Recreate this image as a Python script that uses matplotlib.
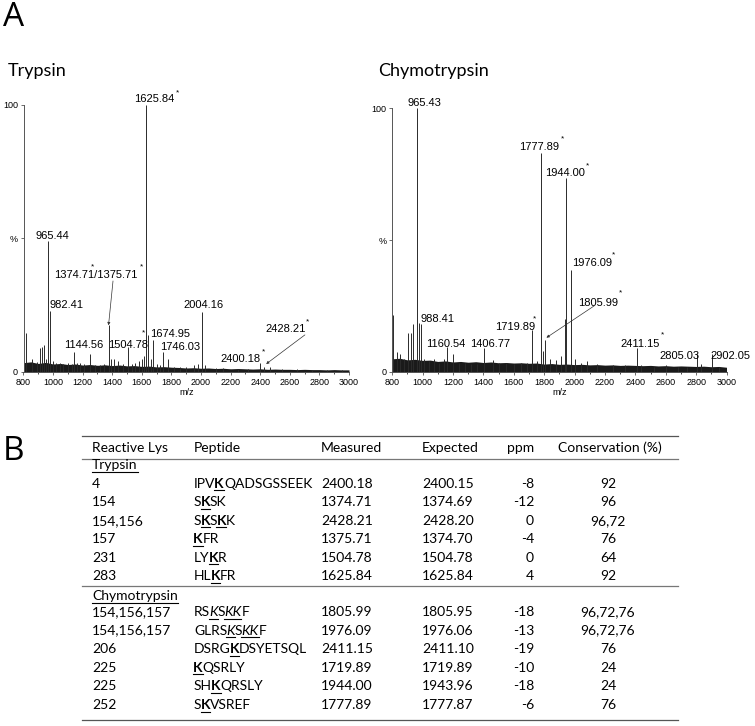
import re
import numpy as np
import matplotlib
matplotlib.use("Agg")
import matplotlib.pyplot as plt
from matplotlib.lines import Line2D

# ---- spectra (m/z, relative intensity %) ----
tryp_mz = [815, 855, 889, 911, 927, 941, 952, 965.44, 979, 982.41, 1000, 1020, 1045,
           1070, 1100, 1125, 1144.56, 1160, 1182, 1210, 1249, 1280, 1317, 1345,
           1374.71, 1394, 1414, 1440, 1470, 1504.78, 1530, 1555, 1580, 1600, 1612,
           1625.84, 1643, 1660, 1674.95, 1700, 1720, 1746.03, 1779, 1820, 1860,
           1900, 1950, 1980, 2004.16, 2030, 2100, 2150, 2250, 2320, 2400.18, 2428.21,
           2465, 2550, 2650, 2750, 2850, 2950]
tryp_int = [14.5, 4.9, 3.9, 9.0, 9.5, 10.0, 5.0, 49.0, 13.0, 23.0, 4.0, 3.2, 3.5,
            3.0, 3.2, 3.0, 7.5, 3.5, 3.3, 3.0, 6.9, 2.5, 2.6, 3.0,
            17.5, 5.0, 5.0, 4.0, 3.0, 9.5, 3.0, 3.5, 4.0, 5.0, 6.0,
            100.0, 14.0, 5.0, 12.0, 3.0, 2.5, 7.5, 5.0, 2.0, 2.0,
            2.0, 2.5, 3.0, 22.5, 2.5, 1.5, 1.5, 1.3, 1.2, 3.5, 2.0,
            1.8, 1.0, 1.0, 0.9, 0.8, 0.8]

chymo_mz = [803.6, 830, 852, 875, 902, 922, 939, 965.43, 979, 988.41, 1010, 1040,
            1075, 1110, 1140, 1160.54, 1203, 1240, 1280, 1320, 1360, 1406.77, 1466,
            1500, 1550, 1600, 1650, 1690, 1719.89, 1751, 1777.89, 1795, 1805.99,
            1840, 1880, 1910, 1937, 1944.00, 1976.09, 2003, 2040, 2080, 2150, 2250,
            2330, 2411.15, 2440, 2520, 2600, 2680, 2740, 2805.03, 2830, 2902.05, 2950]
chymo_int = [21.5, 7.7, 7.0, 5.0, 14.6, 14.6, 18.0, 100.0, 18.5, 18.0, 5.0, 4.0,
             5.0, 3.5, 5.0, 9.6, 7.0, 3.5, 3.5, 3.0, 3.0, 9.0, 4.5,
             3.5, 3.5, 3.0, 3.5, 3.5, 15.9, 4.0, 83.0, 8.0, 12.0,
             5.0, 4.5, 6.0, 20.0, 73.5, 38.6, 5.0, 3.5, 4.0, 3.0, 2.5,
             2.5, 9.0, 2.5, 2.0, 2.5, 2.0, 2.0, 7.0, 3.0, 7.0, 2.0]

# baseline noise envelope every 50 Da from 800 to 3000
env_mz = list(range(800, 3001, 50))
tryp_env = [3.5, 3.8, 3.2, 3.6, 3.0, 3.2, 2.8, 3.0, 2.6, 2.8, 2.5, 2.7, 2.4, 2.6,
            2.3, 2.4, 2.1, 2.2, 1.9, 2.0, 1.8, 1.7, 1.5, 1.6, 1.4, 1.5, 1.3, 1.4,
            1.2, 1.3, 1.2, 1.1, 1.2, 1.0, 1.1, 1.0, 1.0, 0.9, 1.0, 0.9, 0.9, 0.8,
            0.9, 0.8, 0.8]
chymo_env = [5.0, 5.2, 4.6, 4.8, 4.4, 4.5, 4.0, 4.2, 3.8, 4.0, 3.7, 3.9, 3.6, 3.8,
             3.5, 3.6, 3.4, 3.5, 3.3, 3.4, 3.0, 3.2, 2.9, 3.0, 2.8, 2.9, 2.7, 2.8,
             2.6, 2.7, 2.5, 2.6, 2.5, 2.4, 2.5, 2.3, 2.4, 2.2, 2.3, 2.2, 2.1, 2.2,
             2.0, 2.1, 1.8]

# peak labels: (text, x, y, star x, star y) in data units
tryp_labels = [("1625.84", 1682, 102.2, 1840, 104.5), ("965.44", 992, 50.9, None, None),
               ("1374.71/1375.71", 1290, 36.3, 1597, 39.3), ("982.41", 1094, 25.1, None, None),
               ("2004.16", 2016, 25.1, None, None), ("1144.56", 1205, 10.1, None, None),
               ("1504.78", 1508, 10.1, 1612, 14.6), ("1674.95", 1790, 14.2, None, None),
               ("1746.03", 1856, 9.4, None, None), ("2400.18", 2268, 4.9, 2422, 7.7),
               ("2428.21", 2572, 16.1, 2722, 18.8)]
tryp_extra_stars = [(1263, 39.3)]
tryp_arrows = [((1405, 34.1), (1374.71, 17.5)), ((2702, 13.9), (2440, 3.0))]

chymo_labels = [("965.43", 1013, 101.9, None, None), ("1777.89", 1766, 85.2, 1921, 88.2),
                ("1944.00", 1937, 75.4, 2085, 78.0), ("1976.09", 2115, 41.3, 2257, 44.2),
                ("1805.99", 2158, 26.1, 2302, 29.8), ("988.41", 1098, 20.1, None, None),
                ("1719.89", 1612, 17.0, 1734, 20.3), ("1160.54", 1151, 10.6, None, None),
                ("1406.77", 1441, 10.6, None, None), ("2411.15", 2431, 10.6, 2579, 13.9),
                ("2805.03", 2691, 6.1, None, None), ("2902.05", 3023, 6.1, None, None)]
chymo_extra_stars = []
chymo_arrows = [((2128, 25.0), (1815, 13.0))]

# ---- table ----
headers = ["Reactive Lys", "Peptide", "Measured", "Expected", "ppm", "Conservation (%)"]
tryp_lys = ["4", "154", "154,156", "157", "231", "283"]
tryp_pep = ["IPV[K]QADSGSSEEK", "S[K]SK", "S[K]S[K]K", "[K]FR", "LY[K]R", "HL[K]FR"]
tryp_meas = ["2400.18", "1374.71", "2428.21", "1375.71", "1504.78", "1625.84"]
tryp_exp = ["2400.15", "1374.69", "2428.20", "1374.70", "1504.78", "1625.84"]
tryp_ppm = ["-8", "-12", "0", "-4", "0", "4"]
tryp_cons = ["92", "96", "96,72", "76", "64", "92"]

chymo_lys = ["154,156,157", "154,156,157", "206", "225", "225", "252"]
chymo_pep = ["RS{K}S{KK}F", "GLRS{K}S{KK}F", "DSRG[K]DSYETSQL", "[K]QSRLY", "SH[K]QRSLY", "S[K]VSREF"]
chymo_meas = ["1805.99", "1976.09", "2411.15", "1719.89", "1944.00", "1777.89"]
chymo_exp = ["1805.95", "1976.06", "2411.10", "1719.89", "1943.96", "1777.87"]
chymo_ppm = ["-18", "-13", "-19", "-10", "-18", "-6"]
chymo_cons = ["96,72,76", "96,72,76", "76", "24", "24", "76"]

W, H = 755, 726
fig = plt.figure(figsize=(W / 100, H / 100), dpi=100)
fig.patch.set_facecolor("white")
SPEC_FONT = "Liberation Sans"
TAB_FONT = "Lato"


def px_axes(x0, y0, x1, y1):
    return fig.add_axes([x0 / W, 1 - y1 / H, (x1 - x0) / W, (y1 - y0) / H])


def spectrum(ax, mz, inten, env, labels, stars, arrows):
    ax.fill_between(env_mz, 0, env, color="#1a1a1a", lw=0)
    ax.vlines(mz, 0, inten, color="#2a2a2a", lw=0.7)
    ax.set_xlim(800, 3000)
    ax.set_ylim(0, 100)
    for s in ["top", "right"]:
        ax.spines[s].set_visible(False)
    for s in ["left", "bottom"]:
        ax.spines[s].set_color("#555555")
        ax.spines[s].set_linewidth(0.7)
    ax.set_xticks(range(800, 3001, 200))
    ax.set_xticks(range(900, 3000, 200), minor=True)
    ax.set_yticks([0, 50, 100])
    ax.set_yticklabels(["0", "%", "100"])
    ax.tick_params(axis="both", labelsize=6.5, length=2.5, width=0.6, color="#555555", pad=1.5)
    ax.tick_params(axis="x", which="minor", length=1.5, width=0.5)
    for lab in ax.get_xticklabels() + ax.get_yticklabels():
        lab.set_family(SPEC_FONT)
    ax.set_xlabel("m/z", fontsize=6.5, family=SPEC_FONT, labelpad=1)
    for txt, x, y, sx, sy in labels:
        ax.text(x, y, txt, ha="center", va="center", fontsize=8, family=SPEC_FONT, clip_on=False)
        if sx is not None:
            ax.text(sx, sy, "*", ha="center", va="center", fontsize=6, family=SPEC_FONT, clip_on=False)
    for sx, sy in stars:
        ax.text(sx, sy, "*", ha="center", va="center", fontsize=6, family=SPEC_FONT, clip_on=False)
    for start, end in arrows:
        ax.annotate("", xy=end, xytext=start,
                    arrowprops=dict(arrowstyle="-|>", lw=0.5, color="#333333",
                                    mutation_scale=4, shrinkA=0, shrinkB=0))


ax1 = px_axes(23.5, 105, 349, 372)
spectrum(ax1, tryp_mz, tryp_int, tryp_env, tryp_labels, tryp_extra_stars, tryp_arrows)
ax2 = px_axes(392.2, 108, 726.5, 372)
spectrum(ax2, chymo_mz, chymo_int, chymo_env, chymo_labels, chymo_extra_stars, chymo_arrows)


def ftext(x, y, s, **kw):
    return fig.text(x / W, 1 - y / H, s, **kw)


ftext(3, 17, "A", fontsize=24, family="Open Sans", va="center", ha="left")
ftext(3, 452, "B", fontsize=24, family="Open Sans", va="center", ha="left")
ftext(8, 71, "Trypsin", fontsize=13, family=TAB_FONT, va="center", ha="left")
ftext(378, 71, "Chymotrypsin", fontsize=13, family=TAB_FONT, va="center", ha="left")

# table geometry (pixels)
TS = 10
col_x = [92, 194, 321, 422]
ppm_right = 534
cons_center = 608
renderer = fig.canvas.get_renderer()


def hline(y, x0=82, x1=678, color="#555555", lw=0.9):
    fig.add_artist(Line2D([x0 / W, x1 / W], [1 - y / H, 1 - y / H], color=color, lw=lw,
                          transform=fig.transFigure))


def text_width(s, **kw):
    t = fig.text(0, 0, s, fontsize=TS, family=TAB_FONT, **kw)
    w = t.get_window_extent(renderer).width
    t.remove()
    return w


def advance(s, **kw):
    # pen advance of s, measured against a bar so that side bearings count
    return text_width(s + "|", **kw) - text_width("|", **kw)


def rich(x, y, s):
    # [..] bold+underline, {..} italic+underline
    parts = re.findall(r"\[([^\]]*)\]|\{([^}]*)\}|([^\[\{]+)", s)
    for b, it, n in parts:
        txt = b or it or n
        kw = {}
        if b:
            kw["weight"] = "bold"
        if it:
            kw["style"] = "italic"
        if (b or it) and x > 0:
            x -= 1.0
        ftext(x, y, txt, fontsize=TS, family=TAB_FONT, va="baseline", ha="left", **kw)
        adv = advance(txt, **kw)
        if b or it:
            hline(y + 2.5, x, x + adv, color="black", lw=0.8)
        x += adv


def underlined(x, y, s):
    ftext(x, y, s, fontsize=TS, family=TAB_FONT, va="baseline", ha="left")
    hline(y + 2.5, x, x + text_width(s), color="black", lw=0.8)


hline(436)
hline(459, color="#777777")
hline(586, color="#777777")
hline(720)

base = 4  # center -> baseline offset
hy = 448 + base
for i in range(4):
    ftext(col_x[i], hy, headers[i], fontsize=TS, family=TAB_FONT, va="baseline", ha="left")
ftext(ppm_right, hy, headers[4], fontsize=TS, family=TAB_FONT, va="baseline", ha="right")
ftext(cons_center + 2, hy, headers[5], fontsize=TS, family=TAB_FONT, va="baseline", ha="center")


def block(y_title, y0, title, lys, pep, meas, exp, ppm, cons):
    underlined(col_x[0], y_title + base, title)
    for i in range(len(lys)):
        y = y0 + 18.6 * i + base
        ftext(col_x[0], y, lys[i], fontsize=TS, family=TAB_FONT, va="baseline")
        rich(col_x[1], y, pep[i])
        ftext(col_x[2], y, meas[i], fontsize=TS, family=TAB_FONT, va="baseline")
        ftext(col_x[3], y, exp[i], fontsize=TS, family=TAB_FONT, va="baseline")
        ftext(ppm_right, y, ppm[i], fontsize=TS, family=TAB_FONT, va="baseline", ha="right")
        ftext(cons_center, y, cons[i], fontsize=TS, family=TAB_FONT, va="baseline", ha="center")


block(465, 483.5, "Trypsin", tryp_lys, tryp_pep, tryp_meas, tryp_exp, tryp_ppm, tryp_cons)
block(596, 612, "Chymotrypsin", chymo_lys, chymo_pep, chymo_meas, chymo_exp, chymo_ppm, chymo_cons)

fig.savefig("out.png", dpi=100)
